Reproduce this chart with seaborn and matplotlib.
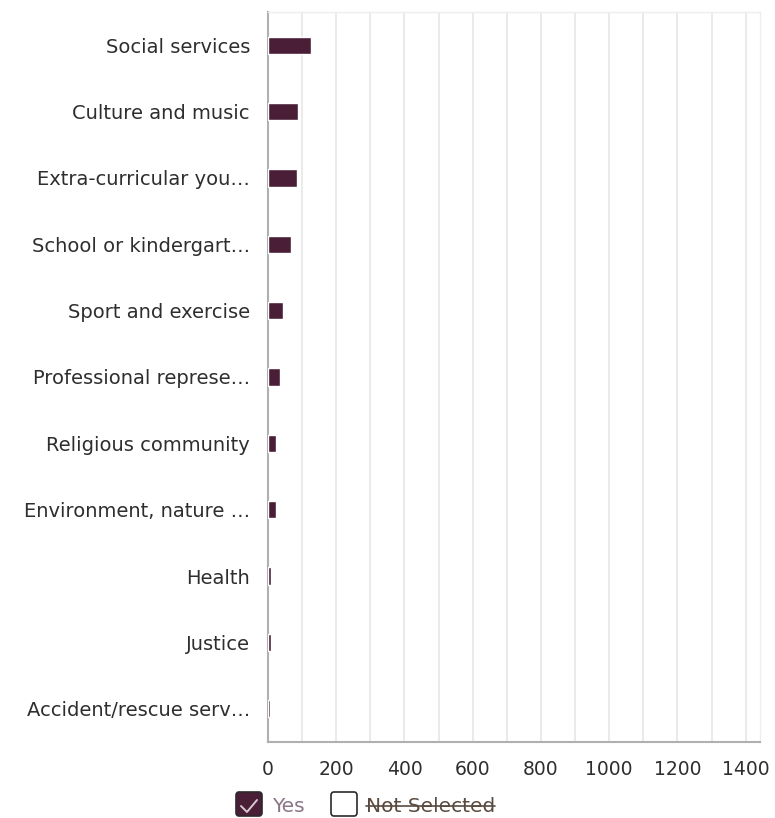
import matplotlib
matplotlib.use("Agg")
import matplotlib.pyplot as plt
import matplotlib.patches as mpatches
from matplotlib.lines import Line2D
from matplotlib.ticker import MultipleLocator
import seaborn as sns
import pandas as pd

categories = [
    "Social services",
    "Culture and music",
    "Extra-curricular you…",
    "School or kindergart…",
    "Sport and exercise",
    "Professional represe…",
    "Religious community",
    "Environment, nature …",
    "Health",
    "Justice",
    "Accident/rescue serv…",
]
yes_counts = [126, 87, 84, 66, 44, 35, 23, 23, 8, 8, 7]
x_max = 1442

BAR = "#4b1e38"
TEXT = "#2e2e2e"

sns.set_theme(style="white")
plt.rcParams["font.family"] = ["DejaVu Sans"]

df = pd.DataFrame({"category": categories, "count": yes_counts})

fig = plt.figure(figsize=(7.75, 8.18), dpi=100)
ax = fig.add_axes([268 / 775, 1 - 742 / 818, (760 - 268) / 775, (742 - 12) / 818])

sns.barplot(data=df, x="count", y="category", orient="h", color=BAR,
            width=0.26, saturation=1, ax=ax, zorder=3)

ax.set_xlim(0, x_max)
ax.set_ylim(len(categories) - 0.5, -0.5)
ax.xaxis.set_major_locator(MultipleLocator(200))
ax.xaxis.set_minor_locator(MultipleLocator(100))
ax.grid(axis="x", which="both", color="#e6e6e6", linewidth=1.2, zorder=0)
ax.set_axisbelow(True)
ax.set_xlabel("")
ax.set_ylabel("")

for side in ("top", "right"):
    ax.spines[side].set_color("#eeeeee")
    ax.spines[side].set_linewidth(1.0)
for side in ("left", "bottom"):
    ax.spines[side].set_color("#b0b0b0")
    ax.spines[side].set_linewidth(1.5)

ax.tick_params(axis="y", length=0, pad=13, labelsize=14, labelcolor=TEXT)
ax.tick_params(axis="x", which="both", length=0, pad=13, labelsize=13.5, labelcolor=TEXT)

# Legend drawn as checkbox-style toggles
def px(x, y):
    return x / 775, 1 - y / 818

bx, by = px(236, 816)
fig.patches.append(mpatches.FancyBboxPatch(
    (bx, by), 26 / 775, 24 / 818, boxstyle="round,pad=0,rounding_size=0.004",
    transform=fig.transFigure, facecolor=BAR, edgecolor="#2a2a2a", linewidth=1.2))
cx = [px(241, 806), px(247, 812), px(257, 800)]
fig.lines.append(Line2D([p[0] for p in cx], [p[1] for p in cx],
                        transform=fig.transFigure, color="#d8c8d0", linewidth=1.4))
tx, ty = px(272, 806)
fig.text(tx, ty, "Yes", color="#8c7488", fontsize=14.5, va="center", ha="left")

bx2, by2 = px(331, 816)
fig.patches.append(mpatches.FancyBboxPatch(
    (bx2, by2), 26 / 775, 24 / 818, boxstyle="round,pad=0,rounding_size=0.004",
    transform=fig.transFigure, facecolor="white", edgecolor="#2a2a2a", linewidth=1.2))
tx2, ty2 = px(366, 806)
ns = fig.text(tx2, ty2, "Not Selected", color="#5a4a3e", fontsize=14.5, va="center", ha="left")
fig.canvas.draw()
bb = ns.get_window_extent().transformed(fig.transFigure.inverted())
fig.lines.append(Line2D([bb.x0, bb.x1], [ty2, ty2], transform=fig.transFigure,
                        color="#5a4a3e", linewidth=1.2))

fig.savefig("out.png", dpi=100)
